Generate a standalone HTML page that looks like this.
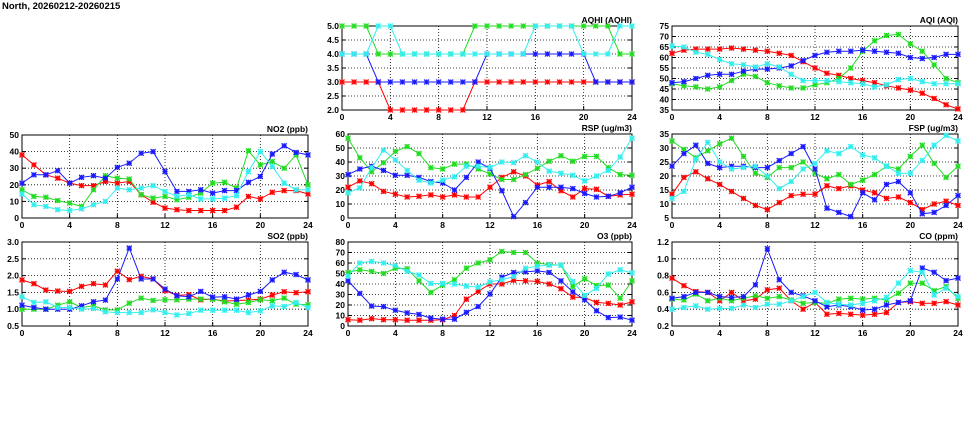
<!DOCTYPE html>
<html><head><meta charset="utf-8">
<style>
html,body{margin:0;padding:0;background:#fff;}
svg{display:block;font-family:"Liberation Sans",sans-serif;}
</style></head>
<body>
<svg id="chart" width="975" height="447" viewBox="0 0 975 447" xmlns="http://www.w3.org/2000/svg">
<text x="2" y="9" font-size="9.5" font-weight="bold" fill="#000">North, 20260212-20260215</text>
</svg>
<script>
const hours = [0,1,2,3,4,5,6,7,8,9,10,11,12,13,14,15,16,17,18,19,20,21,22,23,24];
const xTicks = [0,4,8,12,16,20,24];
const seriesColors = ["#ff0000","#22dd22","#1a1aff","#33eeee"];

const aqhiRed = [3,3,3,3,2,2,2,2,2,2,2,3,3,3,3,3,3,3,3,3,3,3,3,3,3];
const aqhiGreen = [5,5,5,4,4,4,4,4,4,4,4,5,5,5,5,5,5,5,5,5,5,5,5,4,4];
const aqhiBlue = [4,4,4,3,3,3,3,3,3,3,3,3,4,4,4,4,4,4,4,4,4,3,3,3,3];
const aqhiCyan = [4,4,4,5,5,4,4,4,4,4,4,4,4,4,4,4,5,5,5,5,4,4,4,5,5];

const aqiRed = [62,63.5,64,64,64,64.5,64,63.5,63,62,61,58,55,52.5,51.5,50,49,48,46.5,45.5,44.5,43,40.5,37.5,35.5];
const aqiGreen = [47.5,46.5,46,45,46,49,52,51,48,46.5,45.5,45.5,47,48,50,55,63,68,70.5,71,66.5,63,56.5,50,48];
const aqiBlue = [48,48.5,50,51.5,52,52,53.5,54.5,54.5,55,56,58.5,61,62.5,63,63,63.5,63,62.5,62,60,59.5,60,61.5,61.5];
const aqiCyan = [65.5,65,62.5,61.5,59,57,56.5,55.5,57,55.5,52,49,49,49,48.5,48,47.5,46,47,49.5,50,48.5,47.5,47.5,47.5];

const no2Red = [38,32,26,24,21,19.5,19.5,22,21,22,14,9.5,6,5,4.5,4.5,4.5,4.5,6.5,13,11.5,15.5,16.5,16.5,14.5];
const no2Green = [17,13,12.5,10.5,9,7,17,25.5,24,23.5,14,12,13,11,12.5,15,21,21.5,18,40.5,32,34,30,38,20];
const no2Blue = [21,26,26,28.5,21,24.5,25.5,24,30.5,33,39,40,28,16,16,17,15,16.5,16.5,21.5,25,38.5,43.5,39.5,38];
const no2Cyan = [14.5,8,7,5,4.5,5.5,8,10,18,17,18,19.5,16,13,14,11.5,11.5,12,13.5,28,40,31,21,17,17];

const rspRed = [22,26.5,24.5,19,17,15,15.5,16.5,15,16.5,15,15,22,29,33,30,23.5,26,19.5,15,21,20.5,15.5,16.5,17];
const rspGreen = [57,43,33,39.5,47.5,51,46,36,35,38.5,38.5,35,31.5,27.5,27.5,31,35.5,40.5,44.5,40.5,44,44,36,31,30.5];
const rspBlue = [31,35,37,34,30.5,30.5,29,26,25,20,29,40,35.5,19.5,1,11,22,22,22,21,17.5,15,15.5,18,22];
const rspCyan = [18,21.5,36,48.5,41.5,34,27,25,27,29.5,37,37,36,40,39.5,44.5,40,33.5,32,30.5,26.5,30,34,43.5,57];

const fspRed = [13.5,19.5,21.5,19,17,14.5,12,9.5,8,10.5,13,13.5,13.5,16.5,15.5,16.5,15,14,12,12.5,10.5,8,10,11,9.5];
const fspGreen = [32.5,29.5,26.5,29,31.5,33.5,27,21,19.5,23,23,25,21,19,20.5,17,18.5,20.5,23.5,22.5,27,31,24.5,19.5,23.5];
const fspBlue = [23.5,28,31,24.5,23,23.5,23.5,23,23,25.5,28,30.5,22.5,8.5,7,5.5,14,11.5,17,18,14,6.5,7,9.5,13];
const fspCyan = [12,14.5,26,32,25,22.5,23,23.5,20,15.5,18,22.5,24.5,29,28,30.5,27.5,26.5,23.5,21,21,25.5,31,34.5,32.5];

const so2Red = [1.87,1.76,1.57,1.54,1.53,1.68,1.76,1.72,2.13,1.88,1.98,1.9,1.55,1.41,1.43,1.28,1.3,1.24,1.26,1.27,1.3,1.42,1.52,1.49,1.52];
const so2Green = [1.0,1.0,1.0,1.12,1.22,1.05,1.1,0.98,0.98,1.18,1.33,1.26,1.28,1.28,1.3,1.3,1.3,1.22,1.15,1.2,1.28,1.25,1.33,1.15,1.13];
const so2Blue = [1.12,1.05,1.0,1.0,1.0,1.1,1.22,1.27,1.9,2.82,1.9,1.9,1.6,1.4,1.37,1.53,1.36,1.37,1.3,1.42,1.53,1.87,2.1,2.03,1.87];
const so2Cyan = [1.37,1.2,1.22,1.05,1.05,1.0,1.02,0.92,0.9,0.9,0.9,0.98,0.9,0.83,0.87,0.97,0.97,0.97,0.97,0.9,0.95,1.1,1.08,1.2,1.05];

const o3Red = [6,5.5,7,6,6,5.5,5.5,5.5,6,10,25.5,33,40,40,43.5,43,42.5,40,35.5,27.5,27,22.5,21.5,20,23];
const o3Green = [51,53.5,52,50,55,54.5,43,32,39,44,55,60,63,71,70,70,60,58.5,58,37.5,45,38.5,39,26.5,43];
const o3Blue = [43,31,19,18.5,15,12.5,11,7.5,6.5,6.5,13,18.5,30.5,46.5,51,51.5,52.5,51,43,32.5,25,14.5,8,8.5,5.5];
const o3Cyan = [47.5,60,61.5,60,57.5,52,48.5,40.5,40.5,40,38,37,42,44,47,55,57,58,58,42.5,29,36,49.5,53.5,50.5];

const coRed = [0.77,0.68,0.61,0.6,0.5,0.6,0.5,0.52,0.63,0.65,0.5,0.4,0.48,0.34,0.35,0.34,0.33,0.34,0.36,0.48,0.49,0.47,0.47,0.49,0.45];
const coGreen = [0.52,0.51,0.58,0.5,0.53,0.5,0.53,0.56,0.53,0.55,0.51,0.47,0.48,0.47,0.52,0.53,0.52,0.53,0.51,0.59,0.71,0.71,0.62,0.67,0.53];
const coBlue = [0.53,0.55,0.6,0.6,0.55,0.54,0.55,0.69,1.12,0.75,0.6,0.56,0.5,0.43,0.45,0.43,0.39,0.4,0.45,0.48,0.5,0.89,0.84,0.74,0.77];
const coCyan = [0.4,0.42,0.44,0.4,0.41,0.41,0.45,0.42,0.46,0.46,0.5,0.55,0.6,0.48,0.46,0.45,0.47,0.5,0.54,0.71,0.86,0.84,0.57,0.65,0.55];

const panels = [
 {id:"aqhi",title:"AQHI (AQHI)",l:342,r:632,t:26,b:110,min:2,max:5,step:0.5,dec:1,series:[aqhiRed,aqhiGreen,aqhiBlue,aqhiCyan]},
 {id:"aqi",title:"AQI (AQI)",l:672,r:958,t:26,b:110,min:35,max:75,step:5,dec:0,series:[aqiRed,aqiGreen,aqiBlue,aqiCyan]},
 {id:"no2",title:"NO2 (ppb)",l:22,r:308,t:135,b:218,min:0,max:50,step:10,dec:0,series:[no2Red,no2Green,no2Blue,no2Cyan]},
 {id:"rsp",title:"RSP (ug/m3)",l:348,r:632,t:134,b:218,min:0,max:60,step:10,dec:0,series:[rspRed,rspGreen,rspBlue,rspCyan]},
 {id:"fsp",title:"FSP (ug/m3)",l:672,r:958,t:134,b:218,min:5,max:35,step:5,dec:0,series:[fspRed,fspGreen,fspBlue,fspCyan]},
 {id:"so2",title:"SO2 (ppb)",l:22,r:308,t:242,b:326,min:0.5,max:3,step:0.5,dec:1,series:[so2Red,so2Green,so2Blue,so2Cyan]},
 {id:"o3",title:"O3 (ppb)",l:348,r:632,t:242,b:326,min:0,max:80,step:10,dec:0,series:[o3Red,o3Green,o3Blue,o3Cyan]},
 {id:"co",title:"CO (ppm)",l:672,r:958,t:242,b:326,min:0.2,max:1.2,step:0.2,dec:1,series:[coRed,coGreen,coBlue,coCyan]}
];
const seriesNames = ["red","green","blue","cyan"];
const NS = "http://www.w3.org/2000/svg";
const svg = document.getElementById("chart");
function mk(tag, attrs, parent){
  const e = document.createElementNS(NS, tag);
  for (const k in attrs) e.setAttribute(k, attrs[k]);
  parent.appendChild(e);
  return e;
}
panels.forEach(p => {
  const g = mk("g", {}, svg);
  
  
  const xs = v => p.l + (v - 0) / 24 * (p.r - p.l);
  const ys = v => p.b - (v - p.min) / (p.max - p.min) * (p.b - p.t);
  const n = Math.round((p.max - p.min) / p.step);
  for (let i = 0; i <= n; i++) {
    const v = p.min + i * p.step;
    const y = ys(v);
    if (i > 0 && i < n) {
      const gl = mk("line", {x1:p.l, x2:p.r, y1:y, y2:y, stroke:"#000", "stroke-width":0.8, "stroke-dasharray":"1,2"}, g);
      
      
    }
    mk("line", {x1:p.l, x2:p.l+4, y1:y, y2:y, stroke:"#000", "stroke-width":1}, g);
    mk("line", {x1:p.r-4, x2:p.r, y1:y, y2:y, stroke:"#000", "stroke-width":1}, g);
    const t = mk("text", {x:p.l-3, y:y+3, "font-size":8.5, "font-weight":"bold", "text-anchor":"end"}, g);
    t.textContent = v.toFixed(p.dec);
    
    
  }
  xTicks.forEach((v, i) => {
    const x = xs(v);
    if (i > 0 && i < xTicks.length - 1) {
      const gl = mk("line", {x1:x, x2:x, y1:p.t, y2:p.b, stroke:"#000", "stroke-width":0.8, "stroke-dasharray":"1,2"}, g);
      
      
    }
    mk("line", {x1:x, x2:x, y1:p.b, y2:p.b-4, stroke:"#000", "stroke-width":1}, g);
    const t = mk("text", {x:x, y:p.b+10, "font-size":8.5, "font-weight":"bold", "text-anchor":"middle"}, g);
    t.textContent = v;
    
    
  });
  const fr = mk("rect", {x:p.l, y:p.t, width:p.r-p.l, height:p.b-p.t, fill:"none", stroke:"#000", "stroke-width":1}, g);
  
  
  const tt = mk("text", {x:p.r, y:p.t-3, "font-size":8.5, "font-weight":"bold", "text-anchor":"end"}, g);
  tt.textContent = p.title;
  
  
  p.series.forEach((arr, si) => {
    const col = seriesColors[si];
    const sg = mk("g", {}, g);
    
    
    const pts = arr.map((v, i) => xs(hours[i]).toFixed(1) + "," + ys(v).toFixed(1)).join(" ");
    const pl = mk("polyline", {points:pts, fill:"none", stroke:col, "stroke-width":1}, sg);
    
    
    arr.forEach((v, i) => {
      const x = xs(hours[i]), y = ys(v), r = 2.5;
      const m = mk("path", {d:`M${x-r},${y-r}L${x+r},${y+r}M${x-r},${y+r}L${x+r},${y-r}M${x-r},${y}L${x+r},${y}M${x},${y-r}L${x},${y+r}`, stroke:col, "stroke-width":1.2, fill:"none"}, sg);
      
      
      mk("rect", {x:x-2.5, y:y-2.5, width:5, height:5, fill:col, "fill-opacity":0.25, stroke:"none"}, sg);
    });
  });
});
</script>
</body></html>
